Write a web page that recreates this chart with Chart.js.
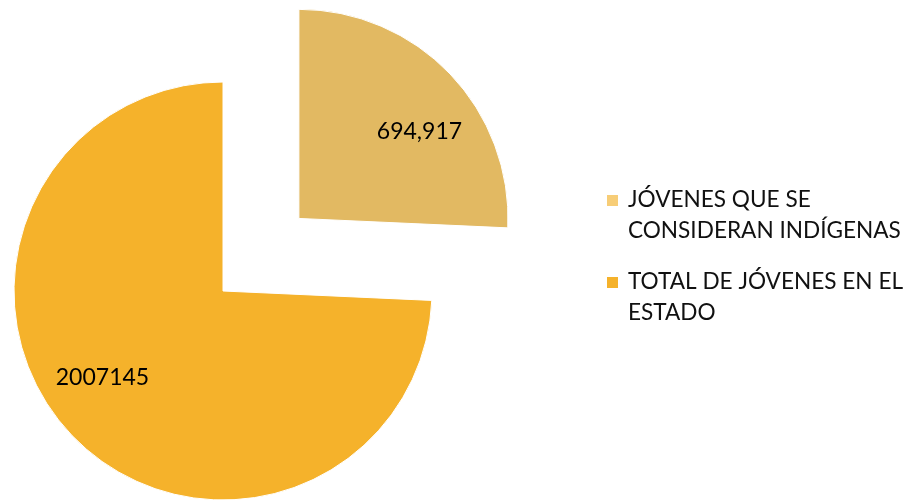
<!DOCTYPE html>
<html>
<head>
<meta charset="utf-8">
<script src="https://cdn.jsdelivr.net/npm/chart.js@4"></script>
<style>
  html, body { margin: 0; padding: 0; background: #fff; }
  #wrap { width: 911px; height: 502px; }
</style>
</head>
<body>
<div id="wrap"><canvas id="pie-chart"></canvas></div>
<script>
// data
const categories = [["JÓVENES QUE SE", "CONSIDERAN INDÍGENAS"], ["TOTAL DE JÓVENES EN EL", "ESTADO"]];
const values = [694917, 2007145];
const valueLabels = ["694,917", "2007145"];
const sliceColors = ["#E2B962", "#F5B22B"];
const legendColors = ["#F7CD77", "#F5B22B"];

const FONT = "Lato, 'Open Sans', sans-serif";

// value labels inside the slices
const sliceLabels = {
  id: "sliceLabels",
  afterDatasetsDraw(chart) {
    const ctx = chart.ctx;
    const meta = chart.getDatasetMeta(0);
    ctx.save();
    ctx.font = "23px " + FONT;
    ctx.fillStyle = "#000";
    ctx.textAlign = "center";
    ctx.textBaseline = "middle";
    meta.data.forEach(function (arc, i) {
      const p = arc.getProps(["x", "y", "startAngle", "endAngle", "outerRadius"], true);
      const off = (arc.options.offset || 0) / 4;
      const mid = (p.startAngle + p.endAngle) / 2;
      const a = mid + 0.14;
      const cx = p.x + Math.cos(mid) * off;
      const cy = p.y + Math.sin(mid) * off;
      const r = p.outerRadius * 0.71;
      ctx.fillText(valueLabels[i], cx + Math.cos(a) * r, cy + Math.sin(a) * r);
    });
    ctx.restore();
  }
};

// legend on the right with wrapped text
const sideLegend = {
  id: "sideLegend",
  afterDraw(chart) {
    const ctx = chart.ctx;
    ctx.save();
    ctx.font = "22.6px " + FONT;
    ctx.textBaseline = "middle";
    ctx.textAlign = "left";
    let y = 200;
    categories.forEach(function (lines, i) {
      ctx.fillStyle = legendColors[i];
      ctx.fillRect(607, y - 5, 11, 11);
      ctx.fillStyle = "#111";
      lines.forEach(function (t, j) {
        ctx.fillText(t, 628, y + j * 31);
      });
      y += 82;
    });
    ctx.restore();
  }
};

new Chart(document.getElementById("pie-chart"), {
  type: "pie",
  data: {
    labels: categories.map(function (c) { return c.join(" "); }),
    datasets: [{
      data: values,
      backgroundColor: sliceColors,
      borderColor: "#ffffff",
      borderWidth: 1,
      offset: [420, 0],
      radius: 209,
      clip: false
    }]
  },
  options: {
    responsive: true,
    maintainAspectRatio: false,
    animation: false,
    events: [],
    layout: { padding: { left: 0, right: 465, top: 80, bottom: 0 } },
    plugins: {
      legend: { display: false },
      tooltip: { enabled: false }
    }
  },
  plugins: [sliceLabels, sideLegend]
});
</script>
</body>
</html>
